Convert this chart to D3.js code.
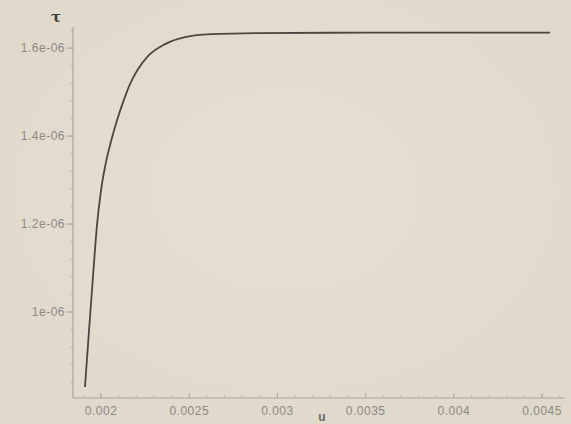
<!DOCTYPE html>
<html>
<head>
<meta charset="utf-8">
<script src="https://cdn.jsdelivr.net/npm/d3@7"></script>
<style>
html,body{margin:0;padding:0;background:#e3dccf;}
svg{display:block;}
</style>
</head>
<body>
<script>
// data
const uValues   = [0.001909,0.001932,0.001955,0.001977,0.002000,0.002028,0.002057,0.002091,0.002125,0.002164,0.002210,0.002266,0.002363,0.002476,0.002624,0.002890,0.0035,0.0040,0.004545];
const tauValues = [0.8295e-6,0.9591e-6,1.0841e-6,1.1977e-6,1.2773e-6,1.3409e-6,1.3886e-6,1.4364e-6,1.4773e-6,1.5182e-6,1.5523e-6,1.5818e-6,1.6091e-6,1.6250e-6,1.6318e-6,1.6341e-6,1.635e-6,1.635e-6,1.635e-6];
const xTicks = [0.002,0.0025,0.003,0.0035,0.004,0.0045];
const xTickLabels = ["0.002","0.0025","0.003","0.0035","0.004","0.0045"];
const yTicks = [1e-6,1.2e-6,1.4e-6,1.6e-6];
const yTickLabels = ["1e-06","1.2e-06","1.4e-06","1.6e-06"];
const xLabel = "u";
const yLabel = "τ";

const W = 571, H = 424;
const svg = d3.select("body").append("svg").attr("width",W).attr("height",H);

// background with soft vignette
const defs = svg.append("defs");
const rg = defs.append("radialGradient").attr("id","bg").attr("cx","50%").attr("cy","45%").attr("r","70%");
rg.append("stop").attr("offset","0%").attr("stop-color","#e6dfd3");
rg.append("stop").attr("offset","100%").attr("stop-color","#dfd8cb");
svg.append("rect").attr("width",W).attr("height",H).attr("fill","url(#bg)");

const x = d3.scaleLinear().domain([0.001841,0.00463]).range([73,565]);
const y = d3.scaleLinear().domain([0.8045e-6,1.648e-6]).range([398,27]);

const axisColor = "#a9a59d";
const textColor = "#8c8880";
const font = "'Liberation Sans', Arial, sans-serif";

// x axis
const xAxis = svg.append("g").attr("transform","translate(0,398)");
xAxis.append("line").attr("x1",x.range()[0]).attr("x2",x.range()[1]).attr("stroke",axisColor).attr("stroke-width",1.2);
const xMinor = d3.range(0.0019,0.00461,0.0001);
xAxis.selectAll("line.minor").data(xMinor).join("line").attr("class","minor")
  .attr("x1",d=>x(d)).attr("x2",d=>x(d)).attr("y1",0).attr("y2",-3)
  .attr("stroke",axisColor).attr("stroke-width",0.8).attr("opacity",0.6);
xAxis.selectAll("line.major").data(xTicks).join("line").attr("class","major")
  .attr("x1",d=>x(d)).attr("x2",d=>x(d)).attr("y1",0).attr("y2",-5)
  .attr("stroke",axisColor).attr("stroke-width",1);
xAxis.selectAll("text").data(xTicks).join("text")
  .attr("x",d=>x(d)).attr("y",17).attr("text-anchor","middle")
  .attr("fill",textColor).attr("font-family",font).attr("font-size",12)
  .attr("letter-spacing",0.5)
  .text((d,i)=>xTickLabels[i]);

// y axis
const yAxis = svg.append("g").attr("transform","translate(73,0)");
yAxis.append("line").attr("y1",y.range()[0]).attr("y2",y.range()[1]).attr("stroke",axisColor).attr("stroke-width",1.2);
const yMinor = d3.range(0.84e-6,1.645e-6,0.04e-6);
yAxis.selectAll("line.minor").data(yMinor).join("line").attr("class","minor")
  .attr("x1",-3).attr("x2",1).attr("y1",d=>y(d)).attr("y2",d=>y(d))
  .attr("stroke",axisColor).attr("stroke-width",0.8).attr("opacity",0.7);
yAxis.selectAll("line.major").data(yTicks).join("line").attr("class","major")
  .attr("x1",-7).attr("x2",1).attr("y1",d=>y(d)).attr("y2",d=>y(d))
  .attr("stroke",axisColor).attr("stroke-width",1);
yAxis.selectAll("text").data(yTicks).join("text")
  .attr("x",-8).attr("y",d=>y(d)).attr("dy","0.35em").attr("text-anchor","end")
  .attr("fill",textColor).attr("font-family",font).attr("font-size",12)
  .attr("letter-spacing",0.5)
  .text((d,i)=>yTickLabels[i]);

// axis titles
svg.append("text").attr("x",322).attr("y",421).attr("text-anchor","middle")
  .attr("fill","#6e6a64").attr("font-family",font).attr("font-weight","bold").attr("font-size",12)
  .text(xLabel);
svg.append("text").attr("x",56).attr("y",22).attr("text-anchor","middle")
  .attr("fill","#3f3c38").attr("font-family","'DejaVu Serif', serif").attr("font-weight","bold").attr("font-size",15)
  .text(yLabel);

// curve
const pts = uValues.map((u,i)=>[u,tauValues[i]]);
const line = d3.line().x(d=>x(d[0])).y(d=>y(d[1])).curve(d3.curveMonotoneX);
svg.append("path").datum(pts).attr("d",line).attr("fill","none")
  .attr("stroke","#4a4742").attr("stroke-width",1.8).attr("stroke-linejoin","round");
</script>
</body>
</html>
